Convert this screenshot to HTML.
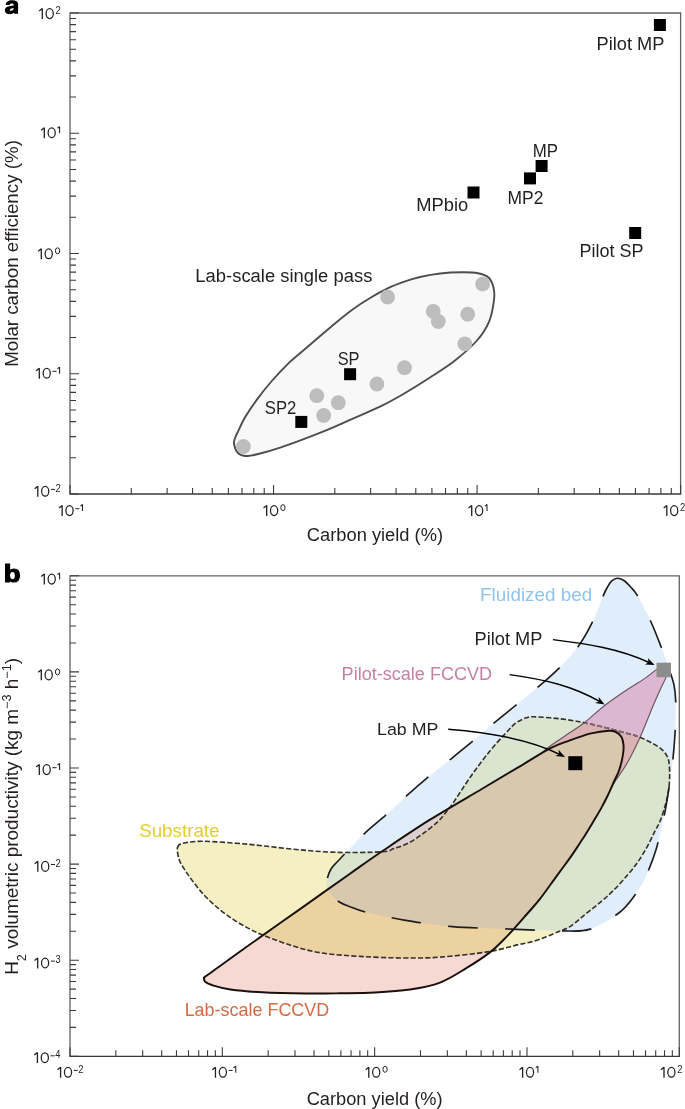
<!DOCTYPE html><html><head><meta charset="utf-8"><style>html,body{margin:0;padding:0;background:#fff;}svg{display:block;font-family:"Liberation Sans",sans-serif;will-change:transform;}</style></head><body><svg width="685" height="1109" viewBox="0 0 685 1109"><path d="M70,494 V13 H680.6 V494" fill="none" stroke="#626262" stroke-width="1.3"/>
<path d="M69.4,494 H681.2" fill="none" stroke="#3a3a3a" stroke-width="1.3"/>
<path d="M70,97.05h6 M70,75.88h6 M70,60.85h6 M70,49.20h6 M70,39.68h6 M70,31.63h6 M70,24.65h6 M70,18.50h6 M70,217.30h6 M70,196.13h6 M70,181.10h6 M70,169.45h6 M70,159.93h6 M70,151.88h6 M70,144.90h6 M70,138.75h6 M70,337.55h6 M70,316.38h6 M70,301.35h6 M70,289.70h6 M70,280.18h6 M70,272.13h6 M70,265.15h6 M70,259.00h6 M70,457.80h6 M70,436.63h6 M70,421.60h6 M70,409.95h6 M70,400.43h6 M70,392.38h6 M70,385.40h6 M70,379.25h6 M70,13.00h9 M70,133.25h9 M70,253.50h9 M70,373.75h9 M70,494.00h9" stroke="#3c3c3c" stroke-width="1.1" fill="none"/>
<path d="M131.27,494v-6 M167.11,494v-6 M192.54,494v-6 M212.26,494v-6 M228.38,494v-6 M242.01,494v-6 M253.81,494v-6 M264.22,494v-6 M334.80,494v-6 M370.64,494v-6 M396.07,494v-6 M415.80,494v-6 M431.91,494v-6 M445.54,494v-6 M457.34,494v-6 M467.75,494v-6 M538.34,494v-6 M574.18,494v-6 M599.61,494v-6 M619.33,494v-6 M635.45,494v-6 M649.07,494v-6 M660.88,494v-6 M671.29,494v-6 M70.00,494v-9 M273.53,494v-9 M477.07,494v-9 M680.60,494v-9" stroke="#3c3c3c" stroke-width="1.1" fill="none"/>
<path d="M39.20,11.02 L42.30,8.50 V19.00" fill="none" stroke="#231f20" stroke-width="1.3" stroke-linejoin="bevel"/><ellipse cx="49.70" cy="13.60" rx="3.58" ry="4.92" fill="none" stroke="#231f20" stroke-width="1.25"/><text x="55.43" y="14.00" font-size="10.4" textLength="5.25" lengthAdjust="spacingAndGlyphs" fill="#231f20">2</text>
<path d="M41.20,130.17 L44.30,127.65 V138.15" fill="none" stroke="#231f20" stroke-width="1.3" stroke-linejoin="bevel"/><ellipse cx="51.70" cy="132.75" rx="3.58" ry="4.93" fill="none" stroke="#231f20" stroke-width="1.25"/><path d="M57.50,128.21 L59.60,126.65 V133.15" fill="none" stroke="#231f20" stroke-width="1.05" stroke-linejoin="bevel"/>
<path d="M38.20,251.22 L41.30,248.70 V259.20" fill="none" stroke="#231f20" stroke-width="1.3" stroke-linejoin="bevel"/><ellipse cx="48.70" cy="253.80" rx="3.58" ry="4.92" fill="none" stroke="#231f20" stroke-width="1.25"/><ellipse cx="57.55" cy="250.80" rx="2.15" ry="3.00" fill="none" stroke="#231f20" stroke-width="1.0"/>
<path d="M36.20,370.67 L39.30,368.15 V378.65" fill="none" stroke="#231f20" stroke-width="1.3" stroke-linejoin="bevel"/><ellipse cx="46.70" cy="373.25" rx="3.58" ry="4.92" fill="none" stroke="#231f20" stroke-width="1.25"/><path d="M52.50,371.35 h4.0" stroke="#231f20" stroke-width="1.0" fill="none"/><path d="M57.50,368.71 L59.60,367.15 V373.65" fill="none" stroke="#231f20" stroke-width="1.05" stroke-linejoin="bevel"/>
<path d="M34.70,488.72 L37.80,486.20 V496.70" fill="none" stroke="#231f20" stroke-width="1.3" stroke-linejoin="bevel"/><ellipse cx="45.20" cy="491.30" rx="3.58" ry="4.92" fill="none" stroke="#231f20" stroke-width="1.25"/><path d="M51.00,489.40 h4.0" stroke="#231f20" stroke-width="1.0" fill="none"/><text x="55.43" y="491.70" font-size="10.4" textLength="5.25" lengthAdjust="spacingAndGlyphs" fill="#231f20">2</text>
<path d="M59.05,508.02 L62.15,505.50 V516.00" fill="none" stroke="#231f20" stroke-width="1.3" stroke-linejoin="bevel"/><ellipse cx="69.55" cy="510.60" rx="3.57" ry="4.92" fill="none" stroke="#231f20" stroke-width="1.25"/><path d="M75.35,508.70 h4.0" stroke="#231f20" stroke-width="1.0" fill="none"/><path d="M80.35,506.06 L82.45,504.50 V511.00" fill="none" stroke="#231f20" stroke-width="1.05" stroke-linejoin="bevel"/>
<path d="M263.58,508.02 L266.68,505.50 V516.00" fill="none" stroke="#231f20" stroke-width="1.3" stroke-linejoin="bevel"/><ellipse cx="274.08" cy="510.60" rx="3.58" ry="4.92" fill="none" stroke="#231f20" stroke-width="1.25"/><ellipse cx="282.93" cy="507.60" rx="2.15" ry="3.00" fill="none" stroke="#231f20" stroke-width="1.0"/>
<path d="M468.62,508.02 L471.72,505.50 V516.00" fill="none" stroke="#231f20" stroke-width="1.3" stroke-linejoin="bevel"/><ellipse cx="479.12" cy="510.60" rx="3.58" ry="4.92" fill="none" stroke="#231f20" stroke-width="1.25"/><path d="M484.92,506.06 L487.02,504.50 V511.00" fill="none" stroke="#231f20" stroke-width="1.05" stroke-linejoin="bevel"/>
<path d="M663.70,508.02 L666.80,505.50 V516.00" fill="none" stroke="#231f20" stroke-width="1.3" stroke-linejoin="bevel"/><ellipse cx="674.20" cy="510.60" rx="3.57" ry="4.92" fill="none" stroke="#231f20" stroke-width="1.25"/><text x="679.93" y="511.00" font-size="10.4" textLength="5.25" lengthAdjust="spacingAndGlyphs" fill="#231f20">2</text>
<text x="306.87" y="541.00" font-size="17.5" textLength="136.16" lengthAdjust="spacingAndGlyphs" fill="#231f20">Carbon yield (%)</text>
<g transform="translate(17.9,365.3) rotate(-90)"><text x="-1.53" y="0.00" font-size="18" textLength="226.70" lengthAdjust="spacingAndGlyphs" fill="#231f20">Molar carbon efficiency (%)</text></g>
<path fill-rule="evenodd" fill="#000" d="M5.7,4.9 C5.8,1.9 8.6,0.3 11.7,0.3 C15.6,0.3 18.1,1.6 18.1,4.6 L18.1,13.7 L14.3,13.7 L14.1,12.6 C13.2,13.6 11.8,14.2 9.6,14.2 C6.8,14.2 4.9,12.7 4.9,10.2 C4.9,7.3 7.3,6.3 10.3,5.9 L13.7,5.4 L13.7,4.9 C13.7,3.9 12.9,3.4 11.7,3.4 C10.5,3.4 9.8,3.9 9.7,4.9 Z M13.7,7.9 C12.6,8.2 10.4,8.3 9.9,9.4 C9.6,10.3 10.3,10.8 11.2,10.7 C12.7,10.5 13.7,9.6 13.7,7.9 Z"/>
<path d="M234.00,443.50 C233.58,440.83 234.80,439.07 235.50,437.00 C236.20,434.93 236.58,434.42 238.20,431.10 C239.82,427.78 242.08,422.35 245.20,417.10 C248.32,411.85 252.62,405.45 256.90,399.60 C261.18,393.75 265.65,388.03 270.90,382.00 C276.15,375.97 283.55,368.20 288.40,363.40 C293.25,358.60 295.15,357.38 300.00,353.20 C304.85,349.02 311.67,343.27 317.50,338.30 C323.33,333.33 329.15,328.22 335.00,323.40 C340.85,318.58 346.75,313.63 352.60,309.40 C358.45,305.17 364.27,301.50 370.10,298.00 C375.93,294.50 381.77,291.17 387.60,288.40 C393.43,285.63 399.70,283.30 405.10,281.40 C410.50,279.50 414.18,278.32 420.00,277.00 C425.82,275.68 433.00,274.28 440.00,273.50 C447.00,272.72 455.67,272.35 462.00,272.30 C468.33,272.25 473.58,272.33 478.00,273.20 C482.42,274.07 485.92,275.12 488.50,277.50 C491.08,279.88 492.58,283.75 493.50,287.50 C494.42,291.25 494.72,294.37 494.00,300.00 C493.28,305.63 492.03,314.55 489.20,321.30 C486.37,328.05 482.70,333.97 477.00,340.50 C471.30,347.03 462.83,354.33 455.00,360.50 C447.17,366.67 439.17,371.58 430.00,377.50 C420.83,383.42 408.33,391.15 400.00,396.00 C391.67,400.85 387.93,402.80 380.00,406.60 C372.07,410.40 362.12,414.55 352.40,418.80 C342.68,423.05 333.62,427.33 321.70,432.10 C309.78,436.87 291.52,443.75 280.90,447.40 C270.28,451.05 263.80,452.57 258.00,454.00 C252.20,455.43 249.43,456.17 246.10,456.00 C242.77,455.83 240.02,455.08 238.00,453.00 C235.98,450.92 234.42,446.17 234.00,443.50 Z" fill="#f8f8f8" stroke="#4d4d4d" stroke-width="1.9"/>
<circle cx="387.6" cy="297.0" r="7.4" fill="#bdbdbd"/>
<circle cx="433.2" cy="311.3" r="7.4" fill="#bdbdbd"/>
<circle cx="438.3" cy="321.5" r="7.4" fill="#bdbdbd"/>
<circle cx="467.7" cy="314.2" r="7.4" fill="#bdbdbd"/>
<circle cx="482.6" cy="284.1" r="7.4" fill="#bdbdbd"/>
<circle cx="464.8" cy="343.8" r="7.4" fill="#bdbdbd"/>
<circle cx="404.5" cy="367.7" r="7.4" fill="#bdbdbd"/>
<circle cx="376.9" cy="384.0" r="7.4" fill="#bdbdbd"/>
<circle cx="316.8" cy="395.7" r="7.4" fill="#bdbdbd"/>
<circle cx="338.3" cy="402.7" r="7.4" fill="#bdbdbd"/>
<circle cx="323.7" cy="415.4" r="7.4" fill="#bdbdbd"/>
<circle cx="243.4" cy="446.5" r="7.4" fill="#bdbdbd"/>
<rect x="653.90" y="19.00" width="12" height="12" fill="#000"/>
<rect x="535.60" y="160.00" width="12" height="12" fill="#000"/>
<rect x="524.00" y="172.40" width="12" height="12" fill="#000"/>
<rect x="467.50" y="186.50" width="12" height="12" fill="#000"/>
<rect x="629.20" y="227.00" width="12" height="12" fill="#000"/>
<rect x="344.10" y="368.20" width="12" height="12" fill="#000"/>
<rect x="295.30" y="415.90" width="12" height="12" fill="#000"/>
<text x="596.60" y="49.50" font-size="17.6" textLength="67.86" lengthAdjust="spacingAndGlyphs" fill="#231f20">Pilot MP</text>
<text x="532.82" y="156.90" font-size="17.6" textLength="25.27" lengthAdjust="spacingAndGlyphs" fill="#231f20">MP</text>
<text x="507.57" y="203.90" font-size="17.6" textLength="35.80" lengthAdjust="spacingAndGlyphs" fill="#231f20">MP2</text>
<text x="416.20" y="211.20" font-size="17.6" textLength="51.97" lengthAdjust="spacingAndGlyphs" fill="#231f20">MPbio</text>
<text x="579.42" y="256.90" font-size="17.6" textLength="64.03" lengthAdjust="spacingAndGlyphs" fill="#231f20">Pilot SP</text>
<text x="195.39" y="282.20" font-size="17.6" textLength="176.97" lengthAdjust="spacingAndGlyphs" fill="#231f20">Lab-scale single pass</text>
<text x="337.66" y="364.50" font-size="17.6" textLength="21.80" lengthAdjust="spacingAndGlyphs" fill="#231f20">SP</text>
<text x="264.74" y="413.80" font-size="17.6" textLength="31.60" lengthAdjust="spacingAndGlyphs" fill="#231f20">SP2</text>
<defs><clipPath id="cB"><path d="M617.00,578.30 C619.00,578.15 621.25,578.88 623.50,580.30 C625.75,581.72 628.08,584.10 630.50,586.80 C632.92,589.50 634.58,590.63 638.00,596.50 C641.42,602.37 646.98,613.17 651.00,622.00 C655.02,630.83 659.25,642.12 662.10,649.50 C664.95,656.88 666.10,660.28 668.10,666.30 C670.10,672.32 672.82,679.25 674.10,685.60 C675.38,691.95 675.65,696.45 675.80,704.40 C675.95,712.35 675.48,724.15 675.00,733.30 C674.52,742.45 673.98,749.68 672.90,759.30 C671.82,768.92 669.95,781.63 668.50,791.00 C667.05,800.37 666.23,805.88 664.20,815.50 C662.17,825.12 659.33,838.62 656.30,848.70 C653.27,858.78 649.57,868.27 646.00,876.00 C642.43,883.73 639.43,888.93 634.90,895.10 C630.37,901.27 626.25,907.33 618.80,913.00 C611.35,918.67 599.73,926.12 590.20,929.10 C580.67,932.08 574.72,930.90 561.60,930.90 C548.48,930.90 529.70,929.82 511.50,929.10 C493.30,928.38 470.28,928.10 452.40,926.60 C434.52,925.10 418.65,922.52 404.20,920.10 C389.75,917.68 374.73,914.33 365.70,912.10 C356.67,909.87 354.68,908.57 350.00,906.70 C345.32,904.83 341.18,903.68 337.60,900.90 C334.02,898.12 330.33,893.17 328.50,890.00 C326.67,886.83 326.18,885.40 326.60,881.90 C327.02,878.40 328.93,872.65 331.00,869.00 C333.07,865.35 333.57,865.78 339.00,860.00 C344.43,854.22 355.85,841.75 363.60,834.30 C371.35,826.85 378.45,821.62 385.50,815.30 C392.55,808.98 398.85,802.72 405.90,796.40 C412.95,790.08 420.50,783.48 427.80,777.40 C435.10,771.32 442.15,765.98 449.70,759.90 C457.25,753.82 465.80,746.98 473.10,740.90 C480.40,734.82 486.20,729.48 493.50,723.40 C500.80,717.32 509.57,710.38 516.90,704.40 C524.23,698.42 530.37,693.65 537.50,687.50 C544.63,681.35 552.98,674.23 559.70,667.50 C566.42,660.77 572.30,654.78 577.80,647.10 C583.30,639.42 588.47,629.93 592.70,621.40 C596.93,612.87 600.78,601.55 603.20,595.90 C605.62,590.25 605.82,589.95 607.20,587.50 C608.58,585.05 609.87,582.73 611.50,581.20 C613.13,579.67 615.00,578.45 617.00,578.30 Z"/></clipPath><clipPath id="cY"><path d="M177.50,847.50 C178.18,844.72 179.02,844.23 183.40,843.20 C187.78,842.17 193.10,841.13 203.80,841.30 C214.50,841.47 233.00,842.92 247.60,844.20 C262.20,845.48 276.80,847.65 291.40,849.00 C306.00,850.35 320.08,851.83 335.20,852.30 C350.32,852.77 372.33,852.42 382.10,851.80 C391.87,851.18 389.42,850.05 393.80,848.60 C398.18,847.15 403.53,845.60 408.40,843.10 C413.27,840.60 418.13,837.13 423.00,833.60 C427.87,830.07 433.70,825.55 437.60,821.90 C441.50,818.25 443.88,814.75 446.40,811.70 C448.92,808.65 448.58,809.55 452.70,803.60 C456.82,797.65 464.97,784.68 471.10,776.00 C477.23,767.32 483.72,758.65 489.50,751.50 C495.28,744.35 501.38,737.87 505.80,733.10 C510.22,728.33 512.58,725.45 516.00,722.90 C519.42,720.35 523.23,718.82 526.30,717.80 C529.37,716.78 528.78,716.63 534.40,716.80 C540.02,716.97 551.77,717.83 560.00,718.80 C568.23,719.77 576.18,721.12 583.80,722.60 C591.42,724.08 598.40,725.87 605.70,727.70 C613.00,729.53 622.05,732.07 627.60,733.60 C633.15,735.13 633.98,734.78 639.00,736.90 C644.02,739.02 653.13,743.28 657.70,746.30 C662.27,749.32 664.47,751.88 666.40,755.00 C668.33,758.12 668.82,760.20 669.30,765.00 C669.78,769.80 669.78,777.78 669.30,783.80 C668.82,789.82 667.85,795.08 666.40,801.10 C664.95,807.12 662.55,814.80 660.60,819.90 C658.65,825.00 656.90,827.30 654.70,831.70 C652.50,836.10 650.08,841.43 647.40,846.30 C644.72,851.17 641.77,856.28 638.60,860.90 C635.43,865.52 632.53,869.13 628.40,874.00 C624.27,878.87 618.67,885.23 613.80,890.10 C608.93,894.97 604.07,899.07 599.20,903.20 C594.33,907.33 589.47,911.00 584.60,914.90 C579.73,918.80 574.43,923.78 570.00,926.60 C565.57,929.42 562.17,930.02 558.00,931.80 C553.83,933.58 549.67,935.55 545.00,937.30 C540.33,939.05 534.37,941.10 530.00,942.30 C525.63,943.50 525.92,942.90 518.80,944.50 C511.68,946.10 500.43,949.80 487.30,951.90 C474.17,954.00 453.85,956.08 440.00,957.10 C426.15,958.12 417.53,958.12 404.20,958.00 C390.87,957.88 373.93,957.27 360.00,956.40 C346.07,955.53 332.03,954.62 320.60,952.80 C309.17,950.98 301.13,948.50 291.40,945.50 C281.67,942.50 269.58,937.78 262.20,934.80 C254.82,931.82 251.95,930.17 247.10,927.60 C242.25,925.03 237.78,922.52 233.10,919.40 C228.42,916.28 223.68,912.80 219.00,908.90 C214.32,905.00 209.27,900.48 205.00,896.00 C200.73,891.52 196.70,886.27 193.40,882.00 C190.10,877.73 187.55,874.08 185.20,870.40 C182.85,866.72 180.58,863.72 179.30,859.90 C178.02,856.08 176.82,850.28 177.50,847.50 Z"/></clipPath><clipPath id="cL"><path d="M210.00,973.20 C219.45,966.30 246.00,947.28 261.00,936.60 C276.00,925.92 285.17,919.58 300.00,909.10 C314.83,898.62 336.07,883.50 350.00,873.70 C363.93,863.90 370.27,859.30 383.60,850.30 C396.93,841.30 413.50,830.00 430.00,819.70 C446.50,809.40 467.60,797.40 482.60,788.50 C497.60,779.60 508.77,772.98 520.00,766.30 C531.23,759.62 541.80,752.68 550.00,748.40 C558.20,744.12 562.35,743.10 569.20,740.60 C576.05,738.10 584.53,735.05 591.10,733.40 C597.67,731.75 604.45,730.93 608.60,730.70 C612.75,730.47 613.85,730.95 616.00,732.00 C618.15,733.05 620.25,734.83 621.50,737.00 C622.75,739.17 623.20,742.50 623.50,745.00 C623.80,747.50 623.63,749.17 623.30,752.00 C622.97,754.83 622.30,758.67 621.50,762.00 C620.70,765.33 619.63,769.00 618.50,772.00 C617.37,775.00 616.45,776.17 614.70,780.00 C612.95,783.83 610.38,790.07 608.00,795.00 C605.62,799.93 602.93,805.03 600.40,809.60 C597.87,814.17 595.23,818.32 592.80,822.40 C590.37,826.48 588.22,830.23 585.80,834.10 C583.38,837.97 580.93,841.63 578.30,845.60 C575.67,849.57 572.80,853.92 570.00,857.90 C567.20,861.88 564.12,865.93 561.50,869.50 C558.88,873.07 557.95,874.32 554.30,879.30 C550.65,884.28 544.15,893.62 539.60,899.40 C535.05,905.18 531.10,909.28 527.00,914.00 C522.90,918.72 518.93,923.37 515.00,927.70 C511.07,932.03 507.58,935.88 503.40,940.00 C499.22,944.12 496.08,947.70 489.90,952.40 C483.72,957.10 474.62,963.17 466.30,968.20 C457.98,973.23 449.38,979.05 440.00,982.60 C430.62,986.15 420.83,987.85 410.00,989.50 C399.17,991.15 386.67,991.87 375.00,992.50 C363.33,993.13 351.50,993.13 340.00,993.30 C328.50,993.47 318.97,993.67 306.00,993.50 C293.03,993.33 274.80,992.97 262.20,992.30 C249.60,991.63 238.68,990.67 230.40,989.50 C222.12,988.33 216.65,986.55 212.50,985.30 C208.35,984.05 206.87,983.22 205.50,982.00 C204.13,980.78 203.55,979.47 204.30,978.00 C205.05,976.53 200.55,980.10 210.00,973.20 Z"/></clipPath></defs>
<path d="M617.00,578.30 C619.00,578.15 621.25,578.88 623.50,580.30 C625.75,581.72 628.08,584.10 630.50,586.80 C632.92,589.50 634.58,590.63 638.00,596.50 C641.42,602.37 646.98,613.17 651.00,622.00 C655.02,630.83 659.25,642.12 662.10,649.50 C664.95,656.88 666.10,660.28 668.10,666.30 C670.10,672.32 672.82,679.25 674.10,685.60 C675.38,691.95 675.65,696.45 675.80,704.40 C675.95,712.35 675.48,724.15 675.00,733.30 C674.52,742.45 673.98,749.68 672.90,759.30 C671.82,768.92 669.95,781.63 668.50,791.00 C667.05,800.37 666.23,805.88 664.20,815.50 C662.17,825.12 659.33,838.62 656.30,848.70 C653.27,858.78 649.57,868.27 646.00,876.00 C642.43,883.73 639.43,888.93 634.90,895.10 C630.37,901.27 626.25,907.33 618.80,913.00 C611.35,918.67 599.73,926.12 590.20,929.10 C580.67,932.08 574.72,930.90 561.60,930.90 C548.48,930.90 529.70,929.82 511.50,929.10 C493.30,928.38 470.28,928.10 452.40,926.60 C434.52,925.10 418.65,922.52 404.20,920.10 C389.75,917.68 374.73,914.33 365.70,912.10 C356.67,909.87 354.68,908.57 350.00,906.70 C345.32,904.83 341.18,903.68 337.60,900.90 C334.02,898.12 330.33,893.17 328.50,890.00 C326.67,886.83 326.18,885.40 326.60,881.90 C327.02,878.40 328.93,872.65 331.00,869.00 C333.07,865.35 333.57,865.78 339.00,860.00 C344.43,854.22 355.85,841.75 363.60,834.30 C371.35,826.85 378.45,821.62 385.50,815.30 C392.55,808.98 398.85,802.72 405.90,796.40 C412.95,790.08 420.50,783.48 427.80,777.40 C435.10,771.32 442.15,765.98 449.70,759.90 C457.25,753.82 465.80,746.98 473.10,740.90 C480.40,734.82 486.20,729.48 493.50,723.40 C500.80,717.32 509.57,710.38 516.90,704.40 C524.23,698.42 530.37,693.65 537.50,687.50 C544.63,681.35 552.98,674.23 559.70,667.50 C566.42,660.77 572.30,654.78 577.80,647.10 C583.30,639.42 588.47,629.93 592.70,621.40 C596.93,612.87 600.78,601.55 603.20,595.90 C605.62,590.25 605.82,589.95 607.20,587.50 C608.58,585.05 609.87,582.73 611.50,581.20 C613.13,579.67 615.00,578.45 617.00,578.30 Z" fill="#e0eefc"/>
<path d="M177.50,847.50 C178.18,844.72 179.02,844.23 183.40,843.20 C187.78,842.17 193.10,841.13 203.80,841.30 C214.50,841.47 233.00,842.92 247.60,844.20 C262.20,845.48 276.80,847.65 291.40,849.00 C306.00,850.35 320.08,851.83 335.20,852.30 C350.32,852.77 372.33,852.42 382.10,851.80 C391.87,851.18 389.42,850.05 393.80,848.60 C398.18,847.15 403.53,845.60 408.40,843.10 C413.27,840.60 418.13,837.13 423.00,833.60 C427.87,830.07 433.70,825.55 437.60,821.90 C441.50,818.25 443.88,814.75 446.40,811.70 C448.92,808.65 448.58,809.55 452.70,803.60 C456.82,797.65 464.97,784.68 471.10,776.00 C477.23,767.32 483.72,758.65 489.50,751.50 C495.28,744.35 501.38,737.87 505.80,733.10 C510.22,728.33 512.58,725.45 516.00,722.90 C519.42,720.35 523.23,718.82 526.30,717.80 C529.37,716.78 528.78,716.63 534.40,716.80 C540.02,716.97 551.77,717.83 560.00,718.80 C568.23,719.77 576.18,721.12 583.80,722.60 C591.42,724.08 598.40,725.87 605.70,727.70 C613.00,729.53 622.05,732.07 627.60,733.60 C633.15,735.13 633.98,734.78 639.00,736.90 C644.02,739.02 653.13,743.28 657.70,746.30 C662.27,749.32 664.47,751.88 666.40,755.00 C668.33,758.12 668.82,760.20 669.30,765.00 C669.78,769.80 669.78,777.78 669.30,783.80 C668.82,789.82 667.85,795.08 666.40,801.10 C664.95,807.12 662.55,814.80 660.60,819.90 C658.65,825.00 656.90,827.30 654.70,831.70 C652.50,836.10 650.08,841.43 647.40,846.30 C644.72,851.17 641.77,856.28 638.60,860.90 C635.43,865.52 632.53,869.13 628.40,874.00 C624.27,878.87 618.67,885.23 613.80,890.10 C608.93,894.97 604.07,899.07 599.20,903.20 C594.33,907.33 589.47,911.00 584.60,914.90 C579.73,918.80 574.43,923.78 570.00,926.60 C565.57,929.42 562.17,930.02 558.00,931.80 C553.83,933.58 549.67,935.55 545.00,937.30 C540.33,939.05 534.37,941.10 530.00,942.30 C525.63,943.50 525.92,942.90 518.80,944.50 C511.68,946.10 500.43,949.80 487.30,951.90 C474.17,954.00 453.85,956.08 440.00,957.10 C426.15,958.12 417.53,958.12 404.20,958.00 C390.87,957.88 373.93,957.27 360.00,956.40 C346.07,955.53 332.03,954.62 320.60,952.80 C309.17,950.98 301.13,948.50 291.40,945.50 C281.67,942.50 269.58,937.78 262.20,934.80 C254.82,931.82 251.95,930.17 247.10,927.60 C242.25,925.03 237.78,922.52 233.10,919.40 C228.42,916.28 223.68,912.80 219.00,908.90 C214.32,905.00 209.27,900.48 205.00,896.00 C200.73,891.52 196.70,886.27 193.40,882.00 C190.10,877.73 187.55,874.08 185.20,870.40 C182.85,866.72 180.58,863.72 179.30,859.90 C178.02,856.08 176.82,850.28 177.50,847.50 Z" fill="#f5f0c3"/>
<g clip-path="url(#cB)"><path d="M177.50,847.50 C178.18,844.72 179.02,844.23 183.40,843.20 C187.78,842.17 193.10,841.13 203.80,841.30 C214.50,841.47 233.00,842.92 247.60,844.20 C262.20,845.48 276.80,847.65 291.40,849.00 C306.00,850.35 320.08,851.83 335.20,852.30 C350.32,852.77 372.33,852.42 382.10,851.80 C391.87,851.18 389.42,850.05 393.80,848.60 C398.18,847.15 403.53,845.60 408.40,843.10 C413.27,840.60 418.13,837.13 423.00,833.60 C427.87,830.07 433.70,825.55 437.60,821.90 C441.50,818.25 443.88,814.75 446.40,811.70 C448.92,808.65 448.58,809.55 452.70,803.60 C456.82,797.65 464.97,784.68 471.10,776.00 C477.23,767.32 483.72,758.65 489.50,751.50 C495.28,744.35 501.38,737.87 505.80,733.10 C510.22,728.33 512.58,725.45 516.00,722.90 C519.42,720.35 523.23,718.82 526.30,717.80 C529.37,716.78 528.78,716.63 534.40,716.80 C540.02,716.97 551.77,717.83 560.00,718.80 C568.23,719.77 576.18,721.12 583.80,722.60 C591.42,724.08 598.40,725.87 605.70,727.70 C613.00,729.53 622.05,732.07 627.60,733.60 C633.15,735.13 633.98,734.78 639.00,736.90 C644.02,739.02 653.13,743.28 657.70,746.30 C662.27,749.32 664.47,751.88 666.40,755.00 C668.33,758.12 668.82,760.20 669.30,765.00 C669.78,769.80 669.78,777.78 669.30,783.80 C668.82,789.82 667.85,795.08 666.40,801.10 C664.95,807.12 662.55,814.80 660.60,819.90 C658.65,825.00 656.90,827.30 654.70,831.70 C652.50,836.10 650.08,841.43 647.40,846.30 C644.72,851.17 641.77,856.28 638.60,860.90 C635.43,865.52 632.53,869.13 628.40,874.00 C624.27,878.87 618.67,885.23 613.80,890.10 C608.93,894.97 604.07,899.07 599.20,903.20 C594.33,907.33 589.47,911.00 584.60,914.90 C579.73,918.80 574.43,923.78 570.00,926.60 C565.57,929.42 562.17,930.02 558.00,931.80 C553.83,933.58 549.67,935.55 545.00,937.30 C540.33,939.05 534.37,941.10 530.00,942.30 C525.63,943.50 525.92,942.90 518.80,944.50 C511.68,946.10 500.43,949.80 487.30,951.90 C474.17,954.00 453.85,956.08 440.00,957.10 C426.15,958.12 417.53,958.12 404.20,958.00 C390.87,957.88 373.93,957.27 360.00,956.40 C346.07,955.53 332.03,954.62 320.60,952.80 C309.17,950.98 301.13,948.50 291.40,945.50 C281.67,942.50 269.58,937.78 262.20,934.80 C254.82,931.82 251.95,930.17 247.10,927.60 C242.25,925.03 237.78,922.52 233.10,919.40 C228.42,916.28 223.68,912.80 219.00,908.90 C214.32,905.00 209.27,900.48 205.00,896.00 C200.73,891.52 196.70,886.27 193.40,882.00 C190.10,877.73 187.55,874.08 185.20,870.40 C182.85,866.72 180.58,863.72 179.30,859.90 C178.02,856.08 176.82,850.28 177.50,847.50 Z" fill="#dae5d0"/></g>
<path d="M663.00,668.00 C663.67,669.00 667.42,670.50 667.00,674.00 C666.58,677.50 662.55,684.32 660.50,689.00 C658.45,693.68 656.87,697.02 654.70,702.10 C652.53,707.18 649.93,713.65 647.50,719.50 C645.07,725.35 643.43,730.03 640.10,737.20 C636.77,744.37 631.78,754.97 627.50,762.50 C623.22,770.03 618.32,776.15 614.40,782.40 C610.48,788.65 605.73,797.07 604.00,800.00 L560,772 L538.00,756.50 C539.45,755.18 543.53,751.13 546.70,748.60 C549.87,746.07 553.12,743.97 557.00,741.30 C560.88,738.63 565.40,735.73 570.00,732.60 C574.60,729.47 578.77,727.05 584.60,722.50 C590.43,717.95 597.87,710.80 605.00,705.30 C612.13,699.80 620.57,694.12 627.40,689.50 C634.23,684.88 640.90,681.10 646.00,677.60 C651.10,674.10 655.17,670.10 658.00,668.50 C660.83,666.90 662.17,668.08 663.00,668.00 Z" fill="#ddb6cf"/>
<g clip-path="url(#cY)"><path d="M663.00,668.00 C663.67,669.00 667.42,670.50 667.00,674.00 C666.58,677.50 662.55,684.32 660.50,689.00 C658.45,693.68 656.87,697.02 654.70,702.10 C652.53,707.18 649.93,713.65 647.50,719.50 C645.07,725.35 643.43,730.03 640.10,737.20 C636.77,744.37 631.78,754.97 627.50,762.50 C623.22,770.03 618.32,776.15 614.40,782.40 C610.48,788.65 605.73,797.07 604.00,800.00 L560,772 L538.00,756.50 C539.45,755.18 543.53,751.13 546.70,748.60 C549.87,746.07 553.12,743.97 557.00,741.30 C560.88,738.63 565.40,735.73 570.00,732.60 C574.60,729.47 578.77,727.05 584.60,722.50 C590.43,717.95 597.87,710.80 605.00,705.30 C612.13,699.80 620.57,694.12 627.40,689.50 C634.23,684.88 640.90,681.10 646.00,677.60 C651.10,674.10 655.17,670.10 658.00,668.50 C660.83,666.90 662.17,668.08 663.00,668.00 Z" fill="#dab4b4"/></g>
<path d="M663.00,668.00 C663.67,669.00 667.42,670.50 667.00,674.00 C666.58,677.50 662.55,684.32 660.50,689.00 C658.45,693.68 656.87,697.02 654.70,702.10 C652.53,707.18 649.93,713.65 647.50,719.50 C645.07,725.35 643.43,730.03 640.10,737.20 C636.77,744.37 631.78,754.97 627.50,762.50 C623.22,770.03 618.32,776.15 614.40,782.40 C610.48,788.65 605.73,797.07 604.00,800.00 L560,772 L538.00,756.50 C539.45,755.18 543.53,751.13 546.70,748.60 C549.87,746.07 553.12,743.97 557.00,741.30 C560.88,738.63 565.40,735.73 570.00,732.60 C574.60,729.47 578.77,727.05 584.60,722.50 C590.43,717.95 597.87,710.80 605.00,705.30 C612.13,699.80 620.57,694.12 627.40,689.50 C634.23,684.88 640.90,681.10 646.00,677.60 C651.10,674.10 655.17,670.10 658.00,668.50 C660.83,666.90 662.17,668.08 663.00,668.00 Z" fill="none" stroke="#6e5262" stroke-width="1.15"/>
<path d="M210.00,973.20 C219.45,966.30 246.00,947.28 261.00,936.60 C276.00,925.92 285.17,919.58 300.00,909.10 C314.83,898.62 336.07,883.50 350.00,873.70 C363.93,863.90 370.27,859.30 383.60,850.30 C396.93,841.30 413.50,830.00 430.00,819.70 C446.50,809.40 467.60,797.40 482.60,788.50 C497.60,779.60 508.77,772.98 520.00,766.30 C531.23,759.62 541.80,752.68 550.00,748.40 C558.20,744.12 562.35,743.10 569.20,740.60 C576.05,738.10 584.53,735.05 591.10,733.40 C597.67,731.75 604.45,730.93 608.60,730.70 C612.75,730.47 613.85,730.95 616.00,732.00 C618.15,733.05 620.25,734.83 621.50,737.00 C622.75,739.17 623.20,742.50 623.50,745.00 C623.80,747.50 623.63,749.17 623.30,752.00 C622.97,754.83 622.30,758.67 621.50,762.00 C620.70,765.33 619.63,769.00 618.50,772.00 C617.37,775.00 616.45,776.17 614.70,780.00 C612.95,783.83 610.38,790.07 608.00,795.00 C605.62,799.93 602.93,805.03 600.40,809.60 C597.87,814.17 595.23,818.32 592.80,822.40 C590.37,826.48 588.22,830.23 585.80,834.10 C583.38,837.97 580.93,841.63 578.30,845.60 C575.67,849.57 572.80,853.92 570.00,857.90 C567.20,861.88 564.12,865.93 561.50,869.50 C558.88,873.07 557.95,874.32 554.30,879.30 C550.65,884.28 544.15,893.62 539.60,899.40 C535.05,905.18 531.10,909.28 527.00,914.00 C522.90,918.72 518.93,923.37 515.00,927.70 C511.07,932.03 507.58,935.88 503.40,940.00 C499.22,944.12 496.08,947.70 489.90,952.40 C483.72,957.10 474.62,963.17 466.30,968.20 C457.98,973.23 449.38,979.05 440.00,982.60 C430.62,986.15 420.83,987.85 410.00,989.50 C399.17,991.15 386.67,991.87 375.00,992.50 C363.33,993.13 351.50,993.13 340.00,993.30 C328.50,993.47 318.97,993.67 306.00,993.50 C293.03,993.33 274.80,992.97 262.20,992.30 C249.60,991.63 238.68,990.67 230.40,989.50 C222.12,988.33 216.65,986.55 212.50,985.30 C208.35,984.05 206.87,983.22 205.50,982.00 C204.13,980.78 203.55,979.47 204.30,978.00 C205.05,976.53 200.55,980.10 210.00,973.20 Z" fill="#f5d9d2"/>
<g clip-path="url(#cB)"><path d="M210.00,973.20 C219.45,966.30 246.00,947.28 261.00,936.60 C276.00,925.92 285.17,919.58 300.00,909.10 C314.83,898.62 336.07,883.50 350.00,873.70 C363.93,863.90 370.27,859.30 383.60,850.30 C396.93,841.30 413.50,830.00 430.00,819.70 C446.50,809.40 467.60,797.40 482.60,788.50 C497.60,779.60 508.77,772.98 520.00,766.30 C531.23,759.62 541.80,752.68 550.00,748.40 C558.20,744.12 562.35,743.10 569.20,740.60 C576.05,738.10 584.53,735.05 591.10,733.40 C597.67,731.75 604.45,730.93 608.60,730.70 C612.75,730.47 613.85,730.95 616.00,732.00 C618.15,733.05 620.25,734.83 621.50,737.00 C622.75,739.17 623.20,742.50 623.50,745.00 C623.80,747.50 623.63,749.17 623.30,752.00 C622.97,754.83 622.30,758.67 621.50,762.00 C620.70,765.33 619.63,769.00 618.50,772.00 C617.37,775.00 616.45,776.17 614.70,780.00 C612.95,783.83 610.38,790.07 608.00,795.00 C605.62,799.93 602.93,805.03 600.40,809.60 C597.87,814.17 595.23,818.32 592.80,822.40 C590.37,826.48 588.22,830.23 585.80,834.10 C583.38,837.97 580.93,841.63 578.30,845.60 C575.67,849.57 572.80,853.92 570.00,857.90 C567.20,861.88 564.12,865.93 561.50,869.50 C558.88,873.07 557.95,874.32 554.30,879.30 C550.65,884.28 544.15,893.62 539.60,899.40 C535.05,905.18 531.10,909.28 527.00,914.00 C522.90,918.72 518.93,923.37 515.00,927.70 C511.07,932.03 507.58,935.88 503.40,940.00 C499.22,944.12 496.08,947.70 489.90,952.40 C483.72,957.10 474.62,963.17 466.30,968.20 C457.98,973.23 449.38,979.05 440.00,982.60 C430.62,986.15 420.83,987.85 410.00,989.50 C399.17,991.15 386.67,991.87 375.00,992.50 C363.33,993.13 351.50,993.13 340.00,993.30 C328.50,993.47 318.97,993.67 306.00,993.50 C293.03,993.33 274.80,992.97 262.20,992.30 C249.60,991.63 238.68,990.67 230.40,989.50 C222.12,988.33 216.65,986.55 212.50,985.30 C208.35,984.05 206.87,983.22 205.50,982.00 C204.13,980.78 203.55,979.47 204.30,978.00 C205.05,976.53 200.55,980.10 210.00,973.20 Z" fill="#ddd0d0"/></g>
<g clip-path="url(#cY)"><path d="M210.00,973.20 C219.45,966.30 246.00,947.28 261.00,936.60 C276.00,925.92 285.17,919.58 300.00,909.10 C314.83,898.62 336.07,883.50 350.00,873.70 C363.93,863.90 370.27,859.30 383.60,850.30 C396.93,841.30 413.50,830.00 430.00,819.70 C446.50,809.40 467.60,797.40 482.60,788.50 C497.60,779.60 508.77,772.98 520.00,766.30 C531.23,759.62 541.80,752.68 550.00,748.40 C558.20,744.12 562.35,743.10 569.20,740.60 C576.05,738.10 584.53,735.05 591.10,733.40 C597.67,731.75 604.45,730.93 608.60,730.70 C612.75,730.47 613.85,730.95 616.00,732.00 C618.15,733.05 620.25,734.83 621.50,737.00 C622.75,739.17 623.20,742.50 623.50,745.00 C623.80,747.50 623.63,749.17 623.30,752.00 C622.97,754.83 622.30,758.67 621.50,762.00 C620.70,765.33 619.63,769.00 618.50,772.00 C617.37,775.00 616.45,776.17 614.70,780.00 C612.95,783.83 610.38,790.07 608.00,795.00 C605.62,799.93 602.93,805.03 600.40,809.60 C597.87,814.17 595.23,818.32 592.80,822.40 C590.37,826.48 588.22,830.23 585.80,834.10 C583.38,837.97 580.93,841.63 578.30,845.60 C575.67,849.57 572.80,853.92 570.00,857.90 C567.20,861.88 564.12,865.93 561.50,869.50 C558.88,873.07 557.95,874.32 554.30,879.30 C550.65,884.28 544.15,893.62 539.60,899.40 C535.05,905.18 531.10,909.28 527.00,914.00 C522.90,918.72 518.93,923.37 515.00,927.70 C511.07,932.03 507.58,935.88 503.40,940.00 C499.22,944.12 496.08,947.70 489.90,952.40 C483.72,957.10 474.62,963.17 466.30,968.20 C457.98,973.23 449.38,979.05 440.00,982.60 C430.62,986.15 420.83,987.85 410.00,989.50 C399.17,991.15 386.67,991.87 375.00,992.50 C363.33,993.13 351.50,993.13 340.00,993.30 C328.50,993.47 318.97,993.67 306.00,993.50 C293.03,993.33 274.80,992.97 262.20,992.30 C249.60,991.63 238.68,990.67 230.40,989.50 C222.12,988.33 216.65,986.55 212.50,985.30 C208.35,984.05 206.87,983.22 205.50,982.00 C204.13,980.78 203.55,979.47 204.30,978.00 C205.05,976.53 200.55,980.10 210.00,973.20 Z" fill="#ecd1a1"/></g>
<g clip-path="url(#cB)"><g clip-path="url(#cY)"><path d="M210.00,973.20 C219.45,966.30 246.00,947.28 261.00,936.60 C276.00,925.92 285.17,919.58 300.00,909.10 C314.83,898.62 336.07,883.50 350.00,873.70 C363.93,863.90 370.27,859.30 383.60,850.30 C396.93,841.30 413.50,830.00 430.00,819.70 C446.50,809.40 467.60,797.40 482.60,788.50 C497.60,779.60 508.77,772.98 520.00,766.30 C531.23,759.62 541.80,752.68 550.00,748.40 C558.20,744.12 562.35,743.10 569.20,740.60 C576.05,738.10 584.53,735.05 591.10,733.40 C597.67,731.75 604.45,730.93 608.60,730.70 C612.75,730.47 613.85,730.95 616.00,732.00 C618.15,733.05 620.25,734.83 621.50,737.00 C622.75,739.17 623.20,742.50 623.50,745.00 C623.80,747.50 623.63,749.17 623.30,752.00 C622.97,754.83 622.30,758.67 621.50,762.00 C620.70,765.33 619.63,769.00 618.50,772.00 C617.37,775.00 616.45,776.17 614.70,780.00 C612.95,783.83 610.38,790.07 608.00,795.00 C605.62,799.93 602.93,805.03 600.40,809.60 C597.87,814.17 595.23,818.32 592.80,822.40 C590.37,826.48 588.22,830.23 585.80,834.10 C583.38,837.97 580.93,841.63 578.30,845.60 C575.67,849.57 572.80,853.92 570.00,857.90 C567.20,861.88 564.12,865.93 561.50,869.50 C558.88,873.07 557.95,874.32 554.30,879.30 C550.65,884.28 544.15,893.62 539.60,899.40 C535.05,905.18 531.10,909.28 527.00,914.00 C522.90,918.72 518.93,923.37 515.00,927.70 C511.07,932.03 507.58,935.88 503.40,940.00 C499.22,944.12 496.08,947.70 489.90,952.40 C483.72,957.10 474.62,963.17 466.30,968.20 C457.98,973.23 449.38,979.05 440.00,982.60 C430.62,986.15 420.83,987.85 410.00,989.50 C399.17,991.15 386.67,991.87 375.00,992.50 C363.33,993.13 351.50,993.13 340.00,993.30 C328.50,993.47 318.97,993.67 306.00,993.50 C293.03,993.33 274.80,992.97 262.20,992.30 C249.60,991.63 238.68,990.67 230.40,989.50 C222.12,988.33 216.65,986.55 212.50,985.30 C208.35,984.05 206.87,983.22 205.50,982.00 C204.13,980.78 203.55,979.47 204.30,978.00 C205.05,976.53 200.55,980.10 210.00,973.20 Z" fill="#d8c8ad"/></g></g>
<path d="M177.50,847.50 C178.18,844.72 179.02,844.23 183.40,843.20 C187.78,842.17 193.10,841.13 203.80,841.30 C214.50,841.47 233.00,842.92 247.60,844.20 C262.20,845.48 276.80,847.65 291.40,849.00 C306.00,850.35 320.08,851.83 335.20,852.30 C350.32,852.77 372.33,852.42 382.10,851.80 C391.87,851.18 389.42,850.05 393.80,848.60 C398.18,847.15 403.53,845.60 408.40,843.10 C413.27,840.60 418.13,837.13 423.00,833.60 C427.87,830.07 433.70,825.55 437.60,821.90 C441.50,818.25 443.88,814.75 446.40,811.70 C448.92,808.65 448.58,809.55 452.70,803.60 C456.82,797.65 464.97,784.68 471.10,776.00 C477.23,767.32 483.72,758.65 489.50,751.50 C495.28,744.35 501.38,737.87 505.80,733.10 C510.22,728.33 512.58,725.45 516.00,722.90 C519.42,720.35 523.23,718.82 526.30,717.80 C529.37,716.78 528.78,716.63 534.40,716.80 C540.02,716.97 551.77,717.83 560.00,718.80 C568.23,719.77 576.18,721.12 583.80,722.60 C591.42,724.08 598.40,725.87 605.70,727.70 C613.00,729.53 622.05,732.07 627.60,733.60 C633.15,735.13 633.98,734.78 639.00,736.90 C644.02,739.02 653.13,743.28 657.70,746.30 C662.27,749.32 664.47,751.88 666.40,755.00 C668.33,758.12 668.82,760.20 669.30,765.00 C669.78,769.80 669.78,777.78 669.30,783.80 C668.82,789.82 667.85,795.08 666.40,801.10 C664.95,807.12 662.55,814.80 660.60,819.90 C658.65,825.00 656.90,827.30 654.70,831.70 C652.50,836.10 650.08,841.43 647.40,846.30 C644.72,851.17 641.77,856.28 638.60,860.90 C635.43,865.52 632.53,869.13 628.40,874.00 C624.27,878.87 618.67,885.23 613.80,890.10 C608.93,894.97 604.07,899.07 599.20,903.20 C594.33,907.33 589.47,911.00 584.60,914.90 C579.73,918.80 574.43,923.78 570.00,926.60 C565.57,929.42 562.17,930.02 558.00,931.80 C553.83,933.58 549.67,935.55 545.00,937.30 C540.33,939.05 534.37,941.10 530.00,942.30 C525.63,943.50 525.92,942.90 518.80,944.50 C511.68,946.10 500.43,949.80 487.30,951.90 C474.17,954.00 453.85,956.08 440.00,957.10 C426.15,958.12 417.53,958.12 404.20,958.00 C390.87,957.88 373.93,957.27 360.00,956.40 C346.07,955.53 332.03,954.62 320.60,952.80 C309.17,950.98 301.13,948.50 291.40,945.50 C281.67,942.50 269.58,937.78 262.20,934.80 C254.82,931.82 251.95,930.17 247.10,927.60 C242.25,925.03 237.78,922.52 233.10,919.40 C228.42,916.28 223.68,912.80 219.00,908.90 C214.32,905.00 209.27,900.48 205.00,896.00 C200.73,891.52 196.70,886.27 193.40,882.00 C190.10,877.73 187.55,874.08 185.20,870.40 C182.85,866.72 180.58,863.72 179.30,859.90 C178.02,856.08 176.82,850.28 177.50,847.50 Z" fill="none" stroke="#34302a" stroke-width="1.6" stroke-dasharray="5.2 2.2"/>
<clipPath id="cP"><path d="M663.00,668.00 C663.67,669.00 667.42,670.50 667.00,674.00 C666.58,677.50 662.55,684.32 660.50,689.00 C658.45,693.68 656.87,697.02 654.70,702.10 C652.53,707.18 649.93,713.65 647.50,719.50 C645.07,725.35 643.43,730.03 640.10,737.20 C636.77,744.37 631.78,754.97 627.50,762.50 C623.22,770.03 618.32,776.15 614.40,782.40 C610.48,788.65 605.73,797.07 604.00,800.00 L560,772 L538.00,756.50 C539.45,755.18 543.53,751.13 546.70,748.60 C549.87,746.07 553.12,743.97 557.00,741.30 C560.88,738.63 565.40,735.73 570.00,732.60 C574.60,729.47 578.77,727.05 584.60,722.50 C590.43,717.95 597.87,710.80 605.00,705.30 C612.13,699.80 620.57,694.12 627.40,689.50 C634.23,684.88 640.90,681.10 646.00,677.60 C651.10,674.10 655.17,670.10 658.00,668.50 C660.83,666.90 662.17,668.08 663.00,668.00 Z"/></clipPath>
<g clip-path="url(#cP)"><path d="M177.50,847.50 C178.18,844.72 179.02,844.23 183.40,843.20 C187.78,842.17 193.10,841.13 203.80,841.30 C214.50,841.47 233.00,842.92 247.60,844.20 C262.20,845.48 276.80,847.65 291.40,849.00 C306.00,850.35 320.08,851.83 335.20,852.30 C350.32,852.77 372.33,852.42 382.10,851.80 C391.87,851.18 389.42,850.05 393.80,848.60 C398.18,847.15 403.53,845.60 408.40,843.10 C413.27,840.60 418.13,837.13 423.00,833.60 C427.87,830.07 433.70,825.55 437.60,821.90 C441.50,818.25 443.88,814.75 446.40,811.70 C448.92,808.65 448.58,809.55 452.70,803.60 C456.82,797.65 464.97,784.68 471.10,776.00 C477.23,767.32 483.72,758.65 489.50,751.50 C495.28,744.35 501.38,737.87 505.80,733.10 C510.22,728.33 512.58,725.45 516.00,722.90 C519.42,720.35 523.23,718.82 526.30,717.80 C529.37,716.78 528.78,716.63 534.40,716.80 C540.02,716.97 551.77,717.83 560.00,718.80 C568.23,719.77 576.18,721.12 583.80,722.60 C591.42,724.08 598.40,725.87 605.70,727.70 C613.00,729.53 622.05,732.07 627.60,733.60 C633.15,735.13 633.98,734.78 639.00,736.90 C644.02,739.02 653.13,743.28 657.70,746.30 C662.27,749.32 664.47,751.88 666.40,755.00 C668.33,758.12 668.82,760.20 669.30,765.00 C669.78,769.80 669.78,777.78 669.30,783.80 C668.82,789.82 667.85,795.08 666.40,801.10 C664.95,807.12 662.55,814.80 660.60,819.90 C658.65,825.00 656.90,827.30 654.70,831.70 C652.50,836.10 650.08,841.43 647.40,846.30 C644.72,851.17 641.77,856.28 638.60,860.90 C635.43,865.52 632.53,869.13 628.40,874.00 C624.27,878.87 618.67,885.23 613.80,890.10 C608.93,894.97 604.07,899.07 599.20,903.20 C594.33,907.33 589.47,911.00 584.60,914.90 C579.73,918.80 574.43,923.78 570.00,926.60 C565.57,929.42 562.17,930.02 558.00,931.80 C553.83,933.58 549.67,935.55 545.00,937.30 C540.33,939.05 534.37,941.10 530.00,942.30 C525.63,943.50 525.92,942.90 518.80,944.50 C511.68,946.10 500.43,949.80 487.30,951.90 C474.17,954.00 453.85,956.08 440.00,957.10 C426.15,958.12 417.53,958.12 404.20,958.00 C390.87,957.88 373.93,957.27 360.00,956.40 C346.07,955.53 332.03,954.62 320.60,952.80 C309.17,950.98 301.13,948.50 291.40,945.50 C281.67,942.50 269.58,937.78 262.20,934.80 C254.82,931.82 251.95,930.17 247.10,927.60 C242.25,925.03 237.78,922.52 233.10,919.40 C228.42,916.28 223.68,912.80 219.00,908.90 C214.32,905.00 209.27,900.48 205.00,896.00 C200.73,891.52 196.70,886.27 193.40,882.00 C190.10,877.73 187.55,874.08 185.20,870.40 C182.85,866.72 180.58,863.72 179.30,859.90 C178.02,856.08 176.82,850.28 177.50,847.50 Z" fill="none" stroke="#8a6878" stroke-width="1.8" stroke-dasharray="5.2 2.2"/></g>
<path d="M617.00,578.30 C619.00,578.15 621.25,578.88 623.50,580.30 C625.75,581.72 628.08,584.10 630.50,586.80 C632.92,589.50 634.58,590.63 638.00,596.50 C641.42,602.37 646.98,613.17 651.00,622.00 C655.02,630.83 659.25,642.12 662.10,649.50 C664.95,656.88 666.10,660.28 668.10,666.30 C670.10,672.32 672.82,679.25 674.10,685.60 C675.38,691.95 675.65,696.45 675.80,704.40 C675.95,712.35 675.48,724.15 675.00,733.30 C674.52,742.45 673.98,749.68 672.90,759.30 C671.82,768.92 669.95,781.63 668.50,791.00 C667.05,800.37 666.23,805.88 664.20,815.50 C662.17,825.12 659.33,838.62 656.30,848.70 C653.27,858.78 649.57,868.27 646.00,876.00 C642.43,883.73 639.43,888.93 634.90,895.10 C630.37,901.27 626.25,907.33 618.80,913.00 C611.35,918.67 599.73,926.12 590.20,929.10 C580.67,932.08 574.72,930.90 561.60,930.90 C548.48,930.90 529.70,929.82 511.50,929.10 C493.30,928.38 470.28,928.10 452.40,926.60 C434.52,925.10 418.65,922.52 404.20,920.10 C389.75,917.68 374.73,914.33 365.70,912.10 C356.67,909.87 354.68,908.57 350.00,906.70 C345.32,904.83 341.18,903.68 337.60,900.90 C334.02,898.12 330.33,893.17 328.50,890.00 C326.67,886.83 326.18,885.40 326.60,881.90 C327.02,878.40 328.93,872.65 331.00,869.00 C333.07,865.35 333.57,865.78 339.00,860.00 C344.43,854.22 355.85,841.75 363.60,834.30 C371.35,826.85 378.45,821.62 385.50,815.30 C392.55,808.98 398.85,802.72 405.90,796.40 C412.95,790.08 420.50,783.48 427.80,777.40 C435.10,771.32 442.15,765.98 449.70,759.90 C457.25,753.82 465.80,746.98 473.10,740.90 C480.40,734.82 486.20,729.48 493.50,723.40 C500.80,717.32 509.57,710.38 516.90,704.40 C524.23,698.42 530.37,693.65 537.50,687.50 C544.63,681.35 552.98,674.23 559.70,667.50 C566.42,660.77 572.30,654.78 577.80,647.10 C583.30,639.42 588.47,629.93 592.70,621.40 C596.93,612.87 600.78,601.55 603.20,595.90 C605.62,590.25 605.82,589.95 607.20,587.50 C608.58,585.05 609.87,582.73 611.50,581.20 C613.13,579.67 615.00,578.45 617.00,578.30 Z" fill="none" stroke="#1e1e1e" stroke-width="1.65" stroke-dasharray="29.75 27.2" stroke-dashoffset="1.5"/>
<path d="M210.00,973.20 C219.45,966.30 246.00,947.28 261.00,936.60 C276.00,925.92 285.17,919.58 300.00,909.10 C314.83,898.62 336.07,883.50 350.00,873.70 C363.93,863.90 370.27,859.30 383.60,850.30 C396.93,841.30 413.50,830.00 430.00,819.70 C446.50,809.40 467.60,797.40 482.60,788.50 C497.60,779.60 508.77,772.98 520.00,766.30 C531.23,759.62 541.80,752.68 550.00,748.40 C558.20,744.12 562.35,743.10 569.20,740.60 C576.05,738.10 584.53,735.05 591.10,733.40 C597.67,731.75 604.45,730.93 608.60,730.70 C612.75,730.47 613.85,730.95 616.00,732.00 C618.15,733.05 620.25,734.83 621.50,737.00 C622.75,739.17 623.20,742.50 623.50,745.00 C623.80,747.50 623.63,749.17 623.30,752.00 C622.97,754.83 622.30,758.67 621.50,762.00 C620.70,765.33 619.63,769.00 618.50,772.00 C617.37,775.00 616.45,776.17 614.70,780.00 C612.95,783.83 610.38,790.07 608.00,795.00 C605.62,799.93 602.93,805.03 600.40,809.60 C597.87,814.17 595.23,818.32 592.80,822.40 C590.37,826.48 588.22,830.23 585.80,834.10 C583.38,837.97 580.93,841.63 578.30,845.60 C575.67,849.57 572.80,853.92 570.00,857.90 C567.20,861.88 564.12,865.93 561.50,869.50 C558.88,873.07 557.95,874.32 554.30,879.30 C550.65,884.28 544.15,893.62 539.60,899.40 C535.05,905.18 531.10,909.28 527.00,914.00 C522.90,918.72 518.93,923.37 515.00,927.70 C511.07,932.03 507.58,935.88 503.40,940.00 C499.22,944.12 496.08,947.70 489.90,952.40 C483.72,957.10 474.62,963.17 466.30,968.20 C457.98,973.23 449.38,979.05 440.00,982.60 C430.62,986.15 420.83,987.85 410.00,989.50 C399.17,991.15 386.67,991.87 375.00,992.50 C363.33,993.13 351.50,993.13 340.00,993.30 C328.50,993.47 318.97,993.67 306.00,993.50 C293.03,993.33 274.80,992.97 262.20,992.30 C249.60,991.63 238.68,990.67 230.40,989.50 C222.12,988.33 216.65,986.55 212.50,985.30 C208.35,984.05 206.87,983.22 205.50,982.00 C204.13,980.78 203.55,979.47 204.30,978.00 C205.05,976.53 200.55,980.10 210.00,973.20 Z" fill="none" stroke="#1a110d" stroke-width="1.95"/>
<path d="M70,1056.3 V575.8 H679.3 V1056.3" fill="none" stroke="#626262" stroke-width="1.3"/>
<path d="M69.4,1056.3 H679.9" fill="none" stroke="#3a3a3a" stroke-width="1.3"/>
<path d="M70,642.97h6 M70,626.05h6 M70,614.04h6 M70,604.73h6 M70,597.12h6 M70,590.69h6 M70,585.11h6 M70,580.20h6 M70,739.07h6 M70,722.15h6 M70,710.14h6 M70,700.83h6 M70,693.22h6 M70,686.79h6 M70,681.21h6 M70,676.30h6 M70,835.17h6 M70,818.25h6 M70,806.24h6 M70,796.93h6 M70,789.32h6 M70,782.89h6 M70,777.31h6 M70,772.40h6 M70,931.27h6 M70,914.35h6 M70,902.34h6 M70,893.03h6 M70,885.42h6 M70,878.99h6 M70,873.41h6 M70,868.50h6 M70,1027.37h6 M70,1010.45h6 M70,998.44h6 M70,989.13h6 M70,981.52h6 M70,975.09h6 M70,969.51h6 M70,964.60h6 M70,575.80h9 M70,671.90h9 M70,768.00h9 M70,864.10h9 M70,960.20h9 M70,1056.30h9" stroke="#3c3c3c" stroke-width="1.1" fill="none"/>
<path d="M115.85,1056.3v-6 M142.68,1056.3v-6 M161.71,1056.3v-6 M176.47,1056.3v-6 M188.53,1056.3v-6 M198.73,1056.3v-6 M207.56,1056.3v-6 M215.35,1056.3v-6 M268.18,1056.3v-6 M295.00,1056.3v-6 M314.03,1056.3v-6 M328.80,1056.3v-6 M340.86,1056.3v-6 M351.05,1056.3v-6 M359.89,1056.3v-6 M367.68,1056.3v-6 M420.50,1056.3v-6 M447.33,1056.3v-6 M466.36,1056.3v-6 M481.12,1056.3v-6 M493.18,1056.3v-6 M503.38,1056.3v-6 M512.21,1056.3v-6 M520.00,1056.3v-6 M572.83,1056.3v-6 M599.65,1056.3v-6 M618.68,1056.3v-6 M633.45,1056.3v-6 M645.51,1056.3v-6 M655.70,1056.3v-6 M664.54,1056.3v-6 M672.33,1056.3v-6 M70.00,1056.3v-9 M222.32,1056.3v-9 M374.65,1056.3v-9 M526.97,1056.3v-9 M679.30,1056.3v-9" stroke="#3c3c3c" stroke-width="1.1" fill="none"/>
<path d="M41.20,576.52 L44.30,574.00 V584.50" fill="none" stroke="#231f20" stroke-width="1.3" stroke-linejoin="bevel"/><ellipse cx="51.70" cy="579.10" rx="3.58" ry="4.93" fill="none" stroke="#231f20" stroke-width="1.25"/><path d="M57.50,574.56 L59.60,573.00 V579.50" fill="none" stroke="#231f20" stroke-width="1.05" stroke-linejoin="bevel"/>
<path d="M38.20,672.32 L41.30,669.80 V680.30" fill="none" stroke="#231f20" stroke-width="1.3" stroke-linejoin="bevel"/><ellipse cx="48.70" cy="674.90" rx="3.58" ry="4.93" fill="none" stroke="#231f20" stroke-width="1.25"/><ellipse cx="57.55" cy="671.90" rx="2.15" ry="3.00" fill="none" stroke="#231f20" stroke-width="1.0"/>
<path d="M36.20,767.02 L39.30,764.50 V775.00" fill="none" stroke="#231f20" stroke-width="1.3" stroke-linejoin="bevel"/><ellipse cx="46.70" cy="769.60" rx="3.58" ry="4.93" fill="none" stroke="#231f20" stroke-width="1.25"/><path d="M52.50,767.70 h4.0" stroke="#231f20" stroke-width="1.0" fill="none"/><path d="M57.50,765.06 L59.60,763.50 V770.00" fill="none" stroke="#231f20" stroke-width="1.05" stroke-linejoin="bevel"/>
<path d="M34.70,863.82 L37.80,861.30 V871.80" fill="none" stroke="#231f20" stroke-width="1.3" stroke-linejoin="bevel"/><ellipse cx="45.20" cy="866.40" rx="3.58" ry="4.93" fill="none" stroke="#231f20" stroke-width="1.25"/><path d="M51.00,864.50 h4.0" stroke="#231f20" stroke-width="1.0" fill="none"/><text x="55.43" y="866.80" font-size="10.4" textLength="5.25" lengthAdjust="spacingAndGlyphs" fill="#231f20">2</text>
<path d="M34.60,960.42 L37.70,957.90 V968.40" fill="none" stroke="#231f20" stroke-width="1.3" stroke-linejoin="bevel"/><ellipse cx="45.10" cy="963.00" rx="3.57" ry="4.93" fill="none" stroke="#231f20" stroke-width="1.25"/><path d="M50.90,961.10 h4.0" stroke="#231f20" stroke-width="1.0" fill="none"/><text x="55.45" y="963.40" font-size="10.4" textLength="5.16" lengthAdjust="spacingAndGlyphs" fill="#231f20">3</text>
<path d="M34.30,1055.12 L37.40,1052.60 V1063.10" fill="none" stroke="#231f20" stroke-width="1.3" stroke-linejoin="bevel"/><ellipse cx="44.80" cy="1057.70" rx="3.57" ry="4.93" fill="none" stroke="#231f20" stroke-width="1.25"/><path d="M50.60,1055.80 h4.0" stroke="#231f20" stroke-width="1.0" fill="none"/><text x="55.29" y="1058.10" font-size="10.4" textLength="5.19" lengthAdjust="spacingAndGlyphs" fill="#231f20">4</text>
<path d="M57.50,1069.72 L60.60,1067.20 V1077.70" fill="none" stroke="#231f20" stroke-width="1.3" stroke-linejoin="bevel"/><ellipse cx="68.00" cy="1072.30" rx="3.57" ry="4.93" fill="none" stroke="#231f20" stroke-width="1.25"/><path d="M73.80,1070.40 h4.0" stroke="#231f20" stroke-width="1.0" fill="none"/><text x="78.23" y="1072.70" font-size="10.4" textLength="5.25" lengthAdjust="spacingAndGlyphs" fill="#231f20">2</text>
<path d="M212.37,1069.72 L215.47,1067.20 V1077.70" fill="none" stroke="#231f20" stroke-width="1.3" stroke-linejoin="bevel"/><ellipse cx="222.88" cy="1072.30" rx="3.58" ry="4.93" fill="none" stroke="#231f20" stroke-width="1.25"/><path d="M228.67,1070.40 h4.0" stroke="#231f20" stroke-width="1.0" fill="none"/><path d="M233.67,1067.76 L235.77,1066.20 V1072.70" fill="none" stroke="#231f20" stroke-width="1.05" stroke-linejoin="bevel"/>
<path d="M365.70,1069.72 L368.80,1067.20 V1077.70" fill="none" stroke="#231f20" stroke-width="1.3" stroke-linejoin="bevel"/><ellipse cx="376.20" cy="1072.30" rx="3.58" ry="4.93" fill="none" stroke="#231f20" stroke-width="1.25"/><ellipse cx="385.05" cy="1069.30" rx="2.15" ry="3.00" fill="none" stroke="#231f20" stroke-width="1.0"/>
<path d="M519.52,1069.72 L522.62,1067.20 V1077.70" fill="none" stroke="#231f20" stroke-width="1.3" stroke-linejoin="bevel"/><ellipse cx="530.02" cy="1072.30" rx="3.57" ry="4.93" fill="none" stroke="#231f20" stroke-width="1.25"/><path d="M535.82,1067.76 L537.92,1066.20 V1072.70" fill="none" stroke="#231f20" stroke-width="1.05" stroke-linejoin="bevel"/>
<path d="M660.90,1069.72 L664.00,1067.20 V1077.70" fill="none" stroke="#231f20" stroke-width="1.3" stroke-linejoin="bevel"/><ellipse cx="671.40" cy="1072.30" rx="3.57" ry="4.93" fill="none" stroke="#231f20" stroke-width="1.25"/><text x="677.13" y="1072.70" font-size="10.4" textLength="5.25" lengthAdjust="spacingAndGlyphs" fill="#231f20">2</text>
<text x="306.67" y="1105.20" font-size="17.5" textLength="135.86" lengthAdjust="spacingAndGlyphs" fill="#231f20">Carbon yield (%)</text>
<g transform="translate(17.7,974.8) rotate(-90)"><text x="0" y="0" font-size="18" fill="#231f20" textLength="316.8" lengthAdjust="spacingAndGlyphs">H<tspan font-size="12" dy="8">2</tspan><tspan dy="-8"> volumetric productivity (kg m</tspan><tspan font-size="12" dy="-7">−3</tspan><tspan dy="7"> h</tspan><tspan font-size="12" dy="-7">−1</tspan><tspan dy="7">)</tspan></text></g>
<text x="3.68" y="581.70" font-size="24.8" font-weight="bold" textLength="16.85" lengthAdjust="spacingAndGlyphs" fill="#000" stroke="#000" stroke-width="1.2">b</text>
<rect x="656.5" y="662.7" width="14.5" height="14.5" fill="#8c8c8c"/>
<rect x="568.3" y="756.2" width="14" height="14" fill="#000"/>
<path d="M552.9,639.6 C587.9,643.8 619.5,648.9 649.15,662.50" fill="none" stroke="#000" stroke-width="1.45"/><path d="M654.6,665.0 L644.96,664.43 L648.69,662.29 L647.88,658.07 Z" fill="#000"/>
<path d="M509.6,674.6 C544.6,679.5 572.5,685.8 599.51,701.49" fill="none" stroke="#000" stroke-width="1.45"/><path d="M604.7,704.5 L595.16,703.01 L599.08,701.24 L598.67,696.95 Z" fill="#000"/>
<path d="M448.2,729.2 C493.2,732.8 530.0,739.5 559.63,754.32" fill="none" stroke="#000" stroke-width="1.45"/><path d="M565.0,757.0 L555.38,756.11 L559.19,754.09 L558.52,749.84 Z" fill="#000"/>
<text x="480.05" y="601.30" font-size="17.8" textLength="112.16" lengthAdjust="spacingAndGlyphs" fill="#90c4ee">Fluidized bed</text>
<text x="474.60" y="644.60" font-size="17.5" textLength="67.86" lengthAdjust="spacingAndGlyphs" fill="#231f20">Pilot MP</text>
<text x="341.62" y="680.20" font-size="18" textLength="150.44" lengthAdjust="spacingAndGlyphs" fill="#c77fa6">Pilot-scale FCCVD</text>
<text x="377.14" y="734.90" font-size="17.4" textLength="61.19" lengthAdjust="spacingAndGlyphs" fill="#231f20">Lab MP</text>
<text x="139.15" y="837.10" font-size="17.8" textLength="80.39" lengthAdjust="spacingAndGlyphs" fill="#e2cd30">Substrate</text>
<text x="184.63" y="1015.50" font-size="18.2" textLength="144.63" lengthAdjust="spacingAndGlyphs" fill="#d26c44">Lab-scale FCCVD</text></svg></body></html>
